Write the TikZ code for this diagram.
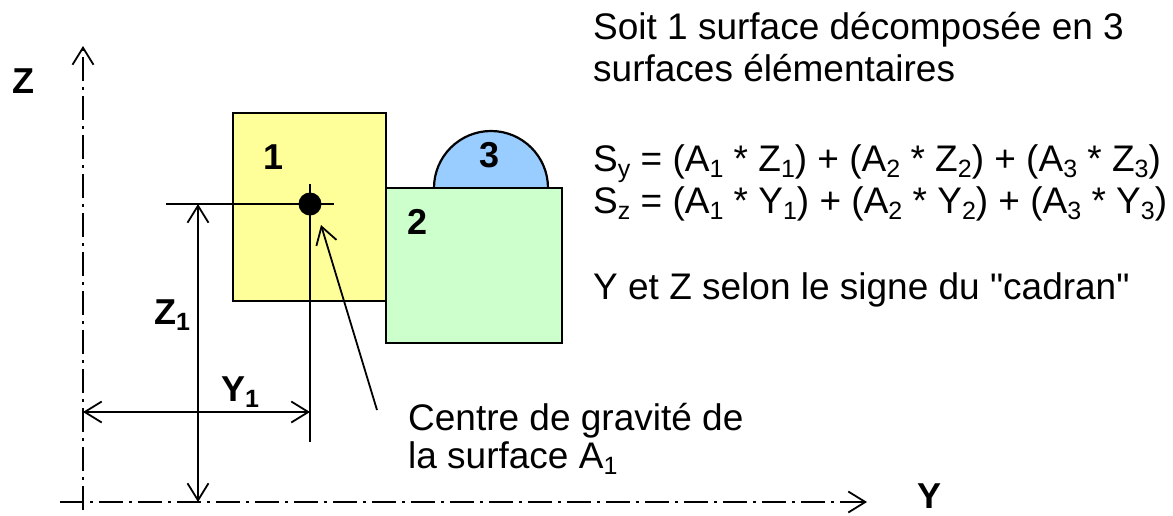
\documentclass[tikz,border=0pt]{standalone}
\usepackage{fontspec}
\setmainfont{Liberation Sans}[Ligatures=TeXOff]
\usetikzlibrary{arrows.meta}
\definecolor{jaune}{HTML}{FFFF99}
\definecolor{vert}{HTML}{CCFFCC}
\definecolor{bleu}{HTML}{99CCFF}
\newcommand\ind[1]{\raisebox{-0.17em}{\fontsize{25}{25}\selectfont #1}}
\tikzset{
  txt/.style={font=\fontsize{37}{42}\selectfont, inner sep=0pt, anchor=base west},
  lbl/.style={font=\fontsize{36}{42}\selectfont\bfseries, inner sep=0pt},
  axe/.style={line width=1.8pt, dash pattern=on 24pt off 6pt on 3pt off 6pt, -{Straight Barb[length=17pt,width=21pt,line width=1.8pt]}},
  thin/.style={line width=1.8pt},
  dim/.style={line width=1.8pt, {Straight Barb[length=17pt,width=21pt,line width=1.8pt]}-{Straight Barb[length=17pt,width=21pt,line width=1.8pt]}},
  ptr/.style={line width=1.8pt, -{Straight Barb[length=17pt,width=21pt,line width=1.8pt]}},
  surf/.style={draw, line width=2.2pt, inner sep=0pt, outer sep=0pt}
}
\begin{document}
\begin{tikzpicture}[x=1pt,y=-1pt]
\useasboundingbox (0,0) rectangle (1173,515);
% axes
\coordinate (zb) at (83,510);
\coordinate (zt) at (83,46);
\coordinate (yl) at (60,502);
\coordinate (yr) at (867,502);
\draw[axe] (zb) -- (zt);
\draw[axe] (yl) -- (yr);
\node[lbl] (Zlab) at (23,81) {Z};
\node[lbl] (Ylab) at (929,496) {Y};
% surfaces
\fill[bleu] (434,188) arc[start angle=180,end angle=360,radius=57] -- cycle;
\draw[line width=2.2pt] (434,188) arc[start angle=180,end angle=360,radius=57];
\node[surf, fill=jaune, minimum width=153pt, minimum height=188pt] (r1) at (309.5,207) {};
\node[surf, fill=vert, minimum width=176pt, minimum height=155pt] (r2) at (474,265.5) {};
\node[lbl] (n1) at (274,157) {1};
\node[lbl] (n2) at (418,222) {2};
\node[lbl] (n3) at (490,155) {3};
% centre of gravity
\node[circle, fill=black, minimum size=23pt, inner sep=0pt] (G) at (310,204) {};
\coordinate (hl) at (166,204);
\coordinate (hr) at (334,204);
\coordinate (vt) at (310,184);
\coordinate (vb) at (310,442);
\draw[thin] (hl) -- (hr);
\draw[thin] (vt) -- (vb);
% dimensions
\coordinate (z1t) at (198,204);
\coordinate (z1b) at (198,502);
\draw[dim] (z1t) -- (z1b);
\coordinate (y1l) at (83,412);
\coordinate (y1r) at (310,412);
\draw[dim] (y1l) -- (y1r);
\node[lbl] (Z1) at (172,315) {Z\ind{\bfseries 1}};
\node[lbl] (Y1) at (240,392) {Y\ind{\bfseries 1}};
% pointer
\coordinate (pt) at (377,410);
\coordinate (ph) at (321,225);
\draw[ptr] (pt) -- (ph);
\node[txt] (c1) at (408,430) {Centre de gravité de};
\node[txt] (c2) at (408,468) {la surface A\ind{1}};
% right text
\node[txt] (t1) at (593,39) {Soit 1 surface décomposée en 3};
\node[txt] (t2) at (593,81) {surfaces élémentaires};
\node[txt] (t3) at (593,171) {S\ind{y} = (A\ind{1} * Z\ind{1}) + (A\ind{2} * Z\ind{2}) + (A\ind{3} * Z\ind{3})};
\node[txt] (t4) at (593,213) {S\ind{z} = (A\ind{1} * Y\ind{1}) + (A\ind{2} * Y\ind{2}) + (A\ind{3} * Y\ind{3})};
\node[txt] (t5) at (593,299) {Y et Z selon le signe du "cadran"};
\end{tikzpicture}
\end{document}
